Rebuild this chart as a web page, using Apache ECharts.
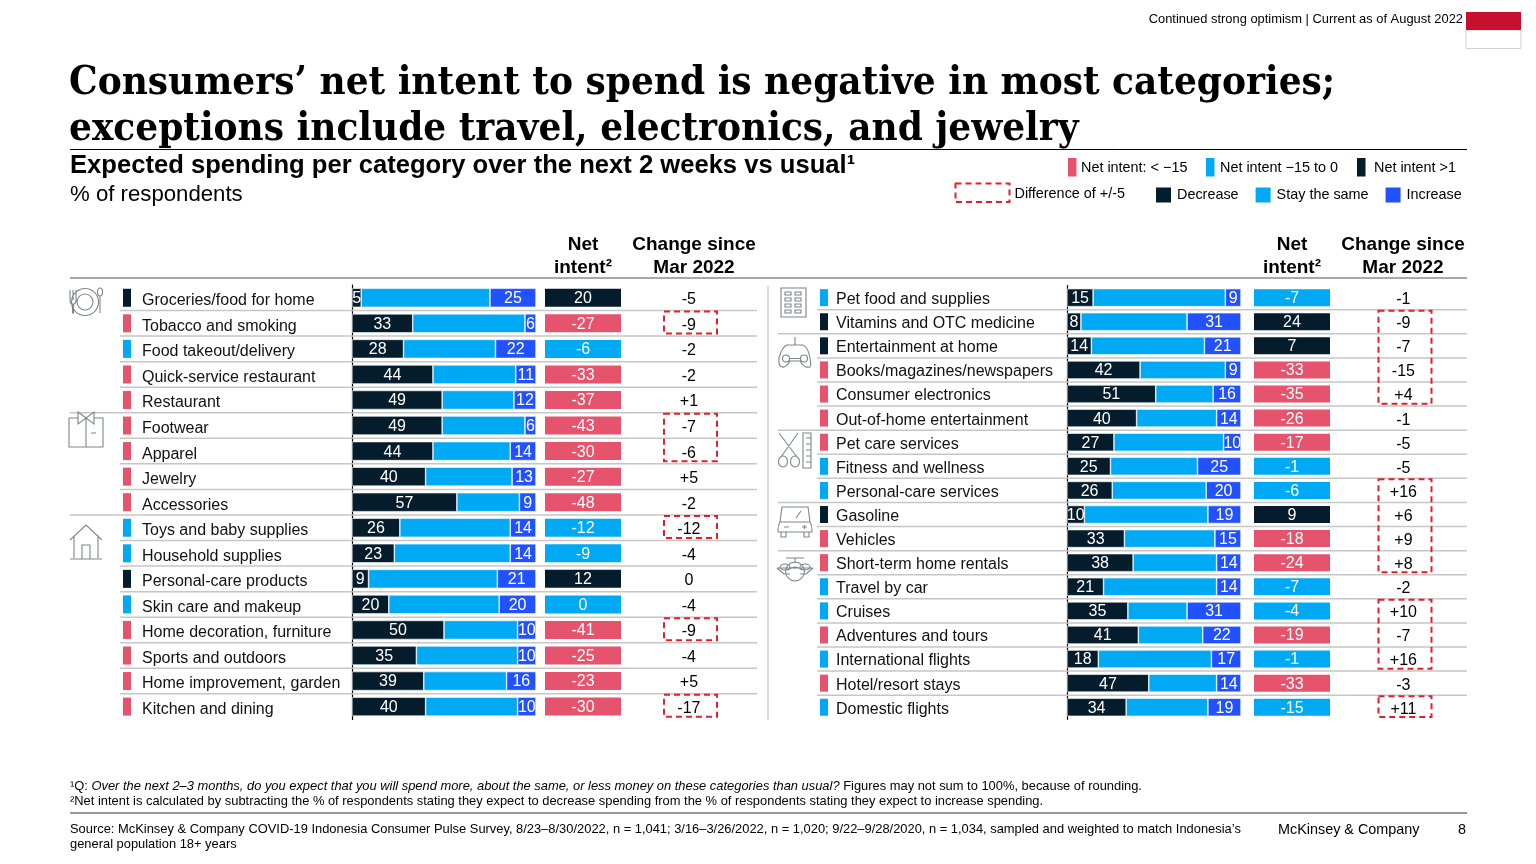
<!DOCTYPE html>
<html>
<head>
<meta charset="utf-8">
<title>Net intent to spend</title>
<script src="https://cdn.jsdelivr.net/npm/echarts@6/dist/echarts.min.js"></script>
<style>
html, body { margin: 0; padding: 0; background: #fff; }
#main { width: 1536px; height: 864px; }
</style>
</head>
<body>
<div id="main"></div>
<script>
// left table
var catsLeft = ['Groceries/food for home', 'Tobacco and smoking', 'Food takeout/delivery', 'Quick-service restaurant', 'Restaurant', 'Footwear', 'Apparel', 'Jewelry', 'Accessories', 'Toys and baby supplies', 'Household supplies', 'Personal-care products', 'Skin care and makeup', 'Home decoration, furniture', 'Sports and outdoors', 'Home improvement, garden', 'Kitchen and dining'];
var decLeft = [5, 33, 28, 44, 49, 49, 44, 40, 57, 26, 23, 9, 20, 50, 35, 39, 40];
var stayLeft = [70, 61, 50, 45, 39, 45, 42, 47, 34, 60, 63, 70, 60, 40, 55, 45, 50];
var incLeft = [25, 6, 22, 11, 12, 6, 14, 13, 9, 14, 14, 21, 20, 10, 10, 16, 10];
var netLeft = [20, -27, -6, -33, -37, -43, -30, -27, -48, -12, -9, 12, 0, -41, -25, -23, -30];
var changeLeft = [-5, -9, -2, -2, 1, -7, -6, 5, -2, -12, -4, 0, -4, -9, -4, 5, -17];
var boxesLeft = [[1, 1], [5, 6], [9, 9], [13, 13], [16, 16]];
var groupsLeft = [5, 9];

// right table
var catsRight = ['Pet food and supplies', 'Vitamins and OTC medicine', 'Entertainment at home', 'Books/magazines/newspapers', 'Consumer electronics', 'Out-of-home entertainment', 'Pet care services', 'Fitness and wellness', 'Personal-care services', 'Gasoline', 'Vehicles', 'Short-term home rentals', 'Travel by car', 'Cruises', 'Adventures and tours', 'International flights', 'Hotel/resort stays', 'Domestic flights'];
var decRight = [15, 8, 14, 42, 51, 40, 27, 25, 26, 10, 33, 38, 21, 35, 41, 18, 47, 34];
var stayRight = [76, 61, 65, 49, 33, 46, 63, 50, 54, 71, 52, 48, 65, 34, 37, 65, 39, 47];
var incRight = [9, 31, 21, 9, 16, 14, 10, 25, 20, 19, 15, 14, 14, 31, 22, 17, 14, 19];
var netRight = [-7, 24, 7, -33, -35, -26, -17, -1, -6, 9, -18, -24, -7, -4, -19, -1, -33, -15];
var changeRight = [-1, -9, -7, -15, 4, -1, -5, -5, 16, 6, 9, 8, -2, 10, -7, 16, -3, 11];
var boxesRight = [[1, 4], [8, 11], [13, 15], [17, 17]];
var groupsRight = [2, 6, 9, 11];

var NAVY = '#051c2c', SKY = '#00a9f4', BLUE = '#2251ff', RED = '#e5546c', DASH = '#e0202c';
var ICON = '#7d868c', RULE = '#c6c6c6';
var SANS = '"Liberation Sans", Arial, sans-serif';

var chart = echarts.init(document.getElementById('main'));

var grids = [], xAxes = [], yAxes = [], series = [], colored = [];

function addGrid(left, width, top, height, cats, yExtra) {
    grids.push({ left: left, width: width, top: top, height: height, containLabel: false });
    xAxes.push({ gridIndex: grids.length - 1, type: 'value', min: 0, max: 1, show: false });
    yAxes.push(Object.assign({
        gridIndex: grids.length - 1, type: 'category', inverse: true, data: cats,
        axisLine: { show: false }, axisTick: { show: false }, axisLabel: { show: false }, splitLine: { show: false }
    }, yExtra || {}));
    return grids.length - 1;
}

function addPanel(p, cats, dec, stay, inc, net, change, boxes, groups) {
    // row separators, the ones starting a group reach out under the icon
    var g = addGrid(p.ruleLeft, p.ruleRight - p.ruleLeft, p.top, p.height, cats);
    series.push({
        type: 'custom', xAxisIndex: g, yAxisIndex: g, silent: true, z: 1,
        data: cats.slice(1).map(function (c, i) { return [i + 1, groups.indexOf(i + 1) >= 0 ? 1 : 0]; }),
        encode: { y: 0 },
        renderItem: function (params, api) {
            var cs = params.coordSys;
            var y = api.coord([0, api.value(0)])[1] - api.size([0, 1])[1] / 2;
            return {
                type: 'line', silent: true,
                shape: { x1: api.value(1) ? cs.x : p.markerLeft - 3, y1: y, x2: cs.x + cs.width, y2: y },
                style: { stroke: RULE, lineWidth: 1.5 }
            };
        }
    });

    // colour marker in front of each category
    g = addGrid(p.markerLeft, 8, p.top, p.height, cats);
    colored.push(series.length);
    series.push({
        type: 'bar', xAxisIndex: g, yAxisIndex: g, barWidth: p.barH, silent: true,
        data: cats.map(function (c, i) { return [1, i, net[i]]; }),
        encode: { x: 0, y: 1 }
    });

    // stacked bars
    g = addGrid(p.barLeft, p.barWidth, p.top, p.height, cats, {
        axisLine: { show: true, onZero: false, lineStyle: { color: '#000', width: 1.2 } },
        axisLabel: {
            show: true, interval: 0, align: 'left', margin: p.barLeft - p.labelLeft,
            color: '#111', fontFamily: SANS, fontSize: 16, verticalAlign: 'top', lineHeight: p.labelDrop
        }
    });
    xAxes[g].max = 100;
    [['Decrease', dec, NAVY], ['Stay the same', stay, SKY], ['Increase', inc, BLUE]].forEach(function (s, k) {
        series.push({
            name: s[0], type: 'bar', stack: 'share' + g, xAxisIndex: g, yAxisIndex: g, barWidth: p.barH + 1, silent: true,
            data: s[1],
            itemStyle: { color: s[2], borderColor: '#fff', borderWidth: 0.6 },
            label: {
                show: k !== 1, position: 'inside', offset: [0, 1], color: '#fff', fontFamily: SANS, fontSize: 16,
                overflow: 'none'
            }
        });
    });

    // net intent cell
    g = addGrid(p.netLeft, 76, p.top, p.height, cats);
    colored.push(series.length);
    series.push({
        type: 'bar', xAxisIndex: g, yAxisIndex: g, barWidth: p.barH, silent: true,
        data: cats.map(function (c, i) { return [1, i, net[i]]; }),
        encode: { x: 0, y: 1 },
        label: {
            show: true, position: 'inside', offset: [0, 1], color: '#fff', fontFamily: SANS, fontSize: 16,
            formatter: function (d) { return d.value[2]; }
        }
    });

    // change since Mar 2022 and the dashed boxes
    g = addGrid(p.changeLeft, 53, p.top, p.height, cats);
    series.push({
        type: 'scatter', xAxisIndex: g, yAxisIndex: g, symbolSize: 0, silent: true,
        itemStyle: { opacity: 1 },
        data: cats.map(function (c, i) { return [0.47, i, change[i]]; }),
        encode: { x: 0, y: 1 },
        label: {
            show: true, position: 'inside', offset: [0, 2], color: '#000', fontFamily: SANS, fontSize: 16,
            formatter: function (d) { return (d.value[2] > 0 ? '+' : '') + d.value[2]; }
        }
    });
    series.push({
        type: 'custom', xAxisIndex: g, yAxisIndex: g, silent: true, z: 3,
        data: boxes,
        encode: { y: [0, 1] },
        renderItem: function (params, api) {
            var cs = params.coordSys, band = api.size([0, 1])[1];
            var y1 = api.coord([0, api.value(0)])[1] - band * 0.46;
            var y2 = api.coord([0, api.value(1)])[1] + band * 0.4;
            return {
                type: 'rect', silent: true,
                shape: { x: cs.x, y: y1, width: cs.width, height: y2 - y1 },
                style: { fill: 'none', stroke: DASH, lineWidth: 2, lineDash: [6, 4] }
            };
        }
    });
}

addPanel({
    top: 285, height: 434.4, barH: 18, ruleLeft: 70, ruleRight: 757, markerLeft: 123, labelLeft: 142, labelDrop: 6,
    barLeft: 352, barWidth: 184, netLeft: 545, changeLeft: 664
}, catsLeft, decLeft, stayLeft, incLeft, netLeft, changeLeft, boxesLeft, groupsLeft);

addPanel({
    top: 285.6, height: 433.7, barH: 17, ruleLeft: 778, ruleRight: 1467, markerLeft: 820, labelLeft: 836, labelDrop: 4,
    barLeft: 1067, barWidth: 174, netLeft: 1254, changeLeft: 1378.5
}, catsRight, decRight, stayRight, incRight, netRight, changeRight, boxesRight, groupsRight);

// category icons
var iconPaths = [
    'M70 290V300Q70 304 72.5 304V313H73.5V304Q76 304 76 300V290M73 290V300M100 288a2.5 4 0 1 0 .01 0ZM100 296V313M85 288.5a13.5 13.5 0 1 0 .01 0ZM85 294a8 8 0 1 0 .01 0Z',
    'M78 418H69V447H103V418H94M86 418V447M78 412L94 424V412L78 424ZM91 433H96',
    'M70 540L86 525L102 540M74 537V558M98 537V558M70 559H102M82 559V545H90V559',
    'M781 288H806V317H781ZM785 292h6v3h-6ZM795 292h6v3h-6ZM785 298h6v3h-6ZM795 298h6v3h-6ZM785 304h6v3h-6ZM795 304h6v3h-6ZM785 310h6v3h-6ZM795 310h6v3h-6Z',
    'M795 337V345M787 345H803Q808 347 810 358T808 367Q804 368 800 361H790Q786 368 782 367T779 358Q782 347 787 345ZM786 355a3.5 3.5 0 1 0 .01 0ZM804 355a3.5 3.5 0 1 0 .01 0ZM789 358.5H801',
    'M779 433L797 457M798 433L781 457M783 456a4.5 5.5 0 1 0 .01 0ZM795 456a4.5 5.5 0 1 0 .01 0ZM803 433H811V468H803ZM806 438H811M806 444H811M806 450H811M806 456H811M806 462H811',
    'M782 507H808L810 522H780ZM780 522Q778 525 778 530V532H812V530Q812 525 810 522M781 532V537H786V532M804 532V537H809V532M796 518L801 511M784 527H789M802 527H807M804.5 525V529',
    'M786 558H804M795 558V563M777 568H813M777 568L784 574H790M813 568L806 574H800M785 564a5 3 0 1 0 .01 0ZM805 564a5 3 0 1 0 .01 0ZM795 562a9.5 9.5 0 1 0 .01 0ZM788 570Q795 564 802 570'
];
series.push({
    type: 'custom', coordinateSystem: 'none', silent: true,
    data: iconPaths.map(function (d, i) { return [i]; }),
    renderItem: function (params) {
        return {
            type: 'path', silent: true,
            shape: { pathData: iconPaths[params.dataIndex] },
            style: { fill: 'none', stroke: ICON, lineWidth: 1.1 }
        };
    }
});

// page furniture
var graphics = [];

function txt(x, y, text, o) {
    o = o || {};
    graphics.push({
        type: 'text', x: x, y: y, silent: true,
        style: {
            text: text, fill: o.color || '#000', align: o.align || 'left', verticalAlign: 'middle',
            font: (o.style || '') + ' ' + (o.weight || 'normal') + ' ' + (o.size || 14) + 'px ' + (o.family || SANS),
            lineHeight: o.lineHeight, rich: o.rich
        }
    });
}
function rect(x, y, w, h, fill, stroke) {
    graphics.push({
        type: 'rect', silent: true, shape: { x: x, y: y, width: w, height: h },
        style: { fill: fill, stroke: stroke || null, lineWidth: 1 }
    });
}
function line(x1, y1, x2, y2, stroke, w) {
    graphics.push({
        type: 'line', silent: true, shape: { x1: x1, y1: y1, x2: x2, y2: y2 },
        style: { stroke: stroke, lineWidth: w }
    });
}

txt(1463, 19, 'Continued strong optimism | Current as of August 2022', { align: 'right', size: 12.9 });
rect(1466, 30, 55, 18.5, '#fff', '#d0d0d0');
rect(1466, 12, 55, 18, '#c8102e');

var SERIF = '"DejaVu Serif Condensed", "DejaVu Serif", Georgia, serif';
txt(69, 83.5, 'Consumers\u2019 net intent to spend is negative in most categories;', { size: 40, weight: 'bold', family: SERIF });
txt(69, 129.5, 'exceptions include travel, electronics, and jewelry', { size: 40, weight: 'bold', family: SERIF });
line(70, 149.5, 1467, 149.5, '#000', 1);

txt(70, 165.5, 'Expected spending per category over the next 2 weeks vs usual\u00b9', { size: 25.6, weight: 'bold' });
txt(70, 194.5, '% of respondents', { size: 22.2 });

// net intent colour key
[[1068, 'Net intent: < \u221215', RED, 1081], [1206, 'Net intent \u221215 to 0', SKY, 1220], [1357, 'Net intent >1', NAVY, 1374]].forEach(function (k) {
    rect(k[0], 158, 8.5, 18.5, k[2]);
    txt(k[3], 168, k[1], { size: 14.4 });
});
graphics.push({
    type: 'rect', silent: true, shape: { x: 955.5, y: 183.5, width: 54, height: 18.5 },
    style: { fill: 'none', stroke: DASH, lineWidth: 2, lineDash: [6, 4] }
});
txt(1014.5, 194, 'Difference of +/-5', { size: 14.4 });

// column heads
[[583, 'Net\nintent\u00b2'], [694, 'Change since\nMar 2022'], [1292, 'Net\nintent\u00b2'], [1403, 'Change since\nMar 2022']].forEach(function (h) {
    txt(h[0], 256.5, h[1], { align: 'center', size: 19, weight: 'bold', lineHeight: 23.5 });
});
line(70, 278, 1467, 278, '#a8a8a8', 2);
line(768, 286, 768, 720, '#cfcfcf', 1.5);

// footnotes and source
txt(70, 786, '{s|\u00b9Q: }{i|Over the next 2\u20133 months, do you expect that you will spend more, about the same, or less money on these categories than usual?}{s| Figures may not sum to 100%, because of rounding.}', {
    size: 12.9,
    rich: {
        s: { font: 'normal 12.9px ' + SANS, fill: '#000' },
        i: { font: 'italic 12.9px ' + SANS, fill: '#000' }
    }
});
txt(70, 801, '\u00b2Net intent is calculated by subtracting the % of respondents stating they expect to decrease spending from the % of respondents stating they expect to increase spending.', { size: 12.9 });
line(70, 813, 1467, 813, '#333', 1.2);
txt(70, 829, 'Source: McKinsey & Company COVID-19 Indonesia Consumer Pulse Survey, 8/23\u20138/30/2022, n = 1,041; 3/16\u20133/26/2022, n = 1,020; 9/22\u20139/28/2020, n = 1,034, sampled and weighted to match Indonesia\u2019s', { size: 12.9 });
txt(70, 844, 'general population 18+ years', { size: 12.9 });
txt(1278, 830, 'McKinsey & Company', { size: 14.4 });
txt(1466, 830, '8', { size: 14.4, align: 'right' });

chart.setOption({
    animation: false,
    grid: grids,
    xAxis: xAxes,
    yAxis: yAxes,
    series: series,
    legend: {
        left: 1154, top: 185.5, padding: 0, itemWidth: 17, itemHeight: 17, itemGap: 15, selectedMode: false,
        icon: 'rect',
        data: ['Decrease', 'Stay the same', 'Increase'],
        textStyle: { color: '#000', fontFamily: SANS, fontSize: 14.4 }
    },
    visualMap: {
        show: false, type: 'piecewise', dimension: 2, seriesIndex: colored,
        pieces: [
            { lt: -15, color: RED },
            { gte: -15, lte: 0, color: SKY },
            { gt: 0, color: NAVY }
        ]
    },
    graphic: { elements: graphics }
});
</script>
</body>
</html>
